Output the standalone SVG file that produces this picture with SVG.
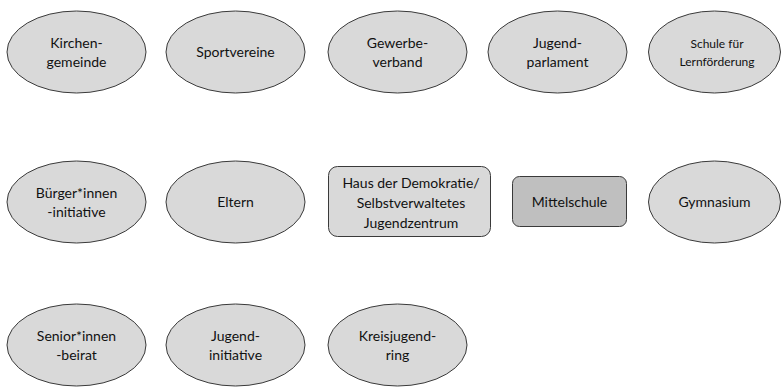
<svg xmlns="http://www.w3.org/2000/svg" width="781" height="389" viewBox="0 0 781 389">
<style>
.n{fill:#d9d9d9;stroke:#3a3a3a;stroke-width:1}
.m{fill:#bfbfbf;stroke:#3a3a3a;stroke-width:1}
text{font-family:Lato,"Liberation Sans",Arial,sans-serif;font-size:14px;fill:#111;text-anchor:middle}
.s{font-size:12px}
</style>
<rect width="781" height="389" fill="#fff"/>
<g id="connectors"></g>
<g id="kirchengemeinde"><ellipse class="n" cx="76.5" cy="52" rx="69.5" ry="41"/><text x="76.5" y="48">Kirchen-</text><text x="76.5" y="67">gemeinde</text></g>
<g id="sportvereine"><ellipse class="n" cx="235.5" cy="52" rx="69.5" ry="41"/><text x="235.5" y="57">Sportvereine</text></g>
<g id="gewerbeverband"><ellipse class="n" cx="397.5" cy="52" rx="69.5" ry="41"/><text x="397.5" y="48">Gewerbe-</text><text x="397.5" y="67">verband</text></g>
<g id="jugendparlament"><ellipse class="n" cx="557.5" cy="52" rx="69.5" ry="41"/><text x="557.5" y="48">Jugend-</text><text x="557.5" y="67">parlament</text></g>
<g id="schule-lernfoerderung"><ellipse class="n" cx="714.5" cy="52" rx="66" ry="41"/><text class="s" x="717" y="48">Schule für</text><text class="s" x="717" y="66">Lernförderung</text></g>
<g id="buergerinitiative"><ellipse class="n" cx="76.5" cy="202" rx="69.5" ry="41"/><text x="76.5" y="198">Bürger*innen</text><text x="76.5" y="217">-initiative</text></g>
<g id="eltern"><ellipse class="n" cx="235.5" cy="202" rx="69.5" ry="41"/><text x="235.5" y="207">Eltern</text></g>
<g id="haus-der-demokratie"><rect class="n" x="328.5" y="166.5" width="162" height="70" rx="9"/><text x="411" y="188">Haus der Demokratie/</text><text x="411" y="208">Selbstverwaltetes</text><text x="411" y="228">Jugendzentrum</text></g>
<g id="mittelschule"><rect class="m" x="512.5" y="176.5" width="114" height="50" rx="7"/><text x="569.5" y="207">Mittelschule</text></g>
<g id="gymnasium"><ellipse class="n" cx="714.5" cy="202" rx="66" ry="41"/><text x="714.5" y="207">Gymnasium</text></g>
<g id="seniorenbeirat"><ellipse class="n" cx="76.5" cy="345" rx="69.5" ry="41"/><text x="76.5" y="341">Senior*innen</text><text x="76.5" y="360">-beirat</text></g>
<g id="jugendinitiative"><ellipse class="n" cx="235.5" cy="345" rx="69.5" ry="41"/><text x="235.5" y="341">Jugend-</text><text x="235.5" y="360">initiative</text></g>
<g id="kreisjugendring"><ellipse class="n" cx="397.5" cy="345" rx="69.5" ry="41"/><text x="397.5" y="341">Kreisjugend-</text><text x="397.5" y="360">ring</text></g>
</svg>
